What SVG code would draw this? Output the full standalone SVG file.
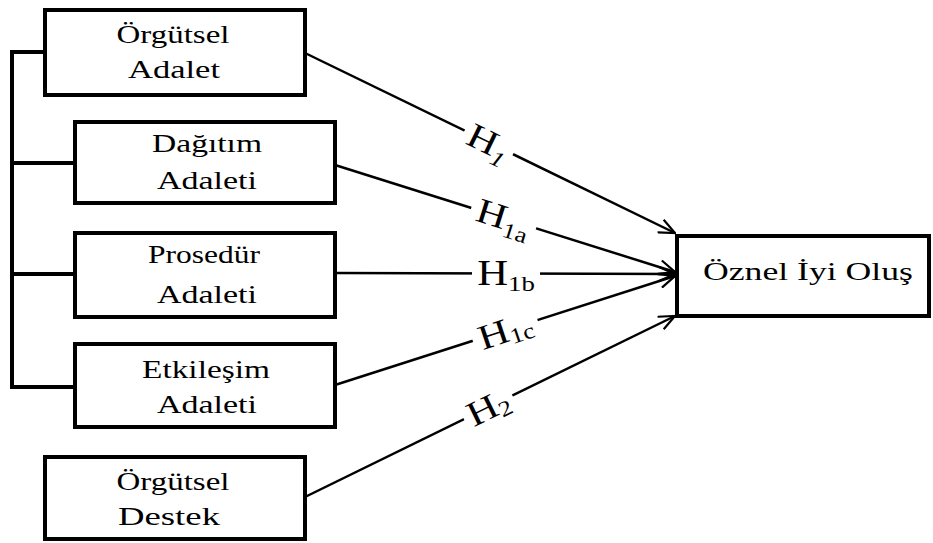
<svg xmlns="http://www.w3.org/2000/svg" width="933" height="543" viewBox="0 0 933 543">
<defs>
<style>
.box{fill:#fff;stroke:#000;stroke-width:4}
.t{font-family:"Liberation Serif","Times New Roman",serif;font-size:25px;fill:#000;text-anchor:middle}
.h{font-family:"Liberation Serif","Times New Roman",serif;font-size:35px;fill:#000;text-anchor:middle}
.sub{font-size:22px}
.con{fill:none;stroke:#000;stroke-width:2.5}
.br{fill:none;stroke:#000;stroke-width:4}
.gap{fill:#fff}
</style>
<marker id="arr" viewBox="0 0 18 16" refX="17" refY="8" markerWidth="18" markerHeight="16" markerUnits="userSpaceOnUse" orient="auto">
<path d="M1,1 L17,8 L1,15" fill="none" stroke="#000" stroke-width="2.2"/>
</marker>
</defs>
<rect width="933" height="543" fill="#fff"/>
<g id="bracket">
<path class="br" d="M45,52 H12 V387 H75 M12,163 H75 M12,274 H75"/>
</g>
<g id="connectors">
<line class="con" x1="305" y1="53" x2="675" y2="233" marker-end="url(#arr)"/>
<line class="con" x1="335" y1="165" x2="675" y2="272" marker-end="url(#arr)"/>
<line class="con" x1="335" y1="273" x2="675" y2="274" marker-end="url(#arr)"/>
<line class="con" x1="335" y1="385" x2="675" y2="276" marker-end="url(#arr)"/>
<line class="con" x1="305" y1="497" x2="675" y2="316" marker-end="url(#arr)"/>
<g transform="translate(489,142) rotate(26)">
<rect class="gap" x="-27" y="-5" width="54" height="10"/>
<text class="h" x="0" y="12" transform="scale(1.2,1)">H<tspan class="sub" font-style="italic" dy="7">1</tspan></text>
</g>
<g transform="translate(504,217) rotate(17.5)">
<rect class="gap" x="-34" y="-5" width="68" height="10"/>
<text class="h" x="0" y="12" transform="scale(1.2,1)">H<tspan class="sub" dy="7">1a</tspan></text>
</g>
<g transform="translate(506,273)">
<rect class="gap" x="-34" y="-5" width="68" height="10"/>
<text class="h" x="0" y="12" transform="scale(1.22,1)">H<tspan class="sub" dy="6">1b</tspan></text>
</g>
<g transform="translate(505,330) rotate(-18.5)">
<rect class="gap" x="-34" y="-5" width="68" height="10"/>
<text class="h" x="0" y="12" transform="scale(1.2,1)">H<tspan class="sub" dy="4">1c</tspan></text>
</g>
<g transform="translate(488,407) rotate(-26)">
<rect class="gap" x="-27" y="-5" width="54" height="10"/>
<text class="h" x="0" y="12" transform="scale(1.2,1)">H<tspan class="sub" dy="4">2</tspan></text>
</g>
</g>
<g id="orgutsel-adalet">
<rect class="box" x="45" y="10" width="260" height="85"/>
<text class="t" x="173" y="43" textLength="113" lengthAdjust="spacingAndGlyphs">Örgütsel</text>
<text class="t" x="174" y="78" textLength="92" lengthAdjust="spacingAndGlyphs">Adalet</text>
</g>
<g id="dagitim-adaleti">
<rect class="box" x="75" y="122" width="260" height="81"/>
<text class="t" x="207" y="152" textLength="110" lengthAdjust="spacingAndGlyphs">Dağıtım</text>
<text class="t" x="207" y="189" textLength="100" lengthAdjust="spacingAndGlyphs">Adaleti</text>
</g>
<g id="prosedur-adaleti">
<rect class="box" x="75" y="233" width="260" height="84"/>
<text class="t" x="204" y="263" textLength="112" lengthAdjust="spacingAndGlyphs">Prosedür</text>
<text class="t" x="207" y="303" textLength="100" lengthAdjust="spacingAndGlyphs">Adaleti</text>
</g>
<g id="etkilesim-adaleti">
<rect class="box" x="75" y="344" width="260" height="83"/>
<text class="t" x="206" y="378" textLength="128" lengthAdjust="spacingAndGlyphs">Etkileşim</text>
<text class="t" x="207" y="413" textLength="100" lengthAdjust="spacingAndGlyphs">Adaleti</text>
</g>
<g id="orgutsel-destek">
<rect class="box" x="45" y="457" width="260" height="82"/>
<text class="t" x="173" y="490" textLength="113" lengthAdjust="spacingAndGlyphs">Örgütsel</text>
<text class="t" x="169" y="525" textLength="102" lengthAdjust="spacingAndGlyphs">Destek</text>
</g>
<g id="oznel-iyi-olus">
<rect class="box" x="677" y="236" width="252" height="80"/>
<text class="t" x="808" y="280" textLength="210" lengthAdjust="spacingAndGlyphs">Öznel İyi Oluş</text>
</g>
</svg>
